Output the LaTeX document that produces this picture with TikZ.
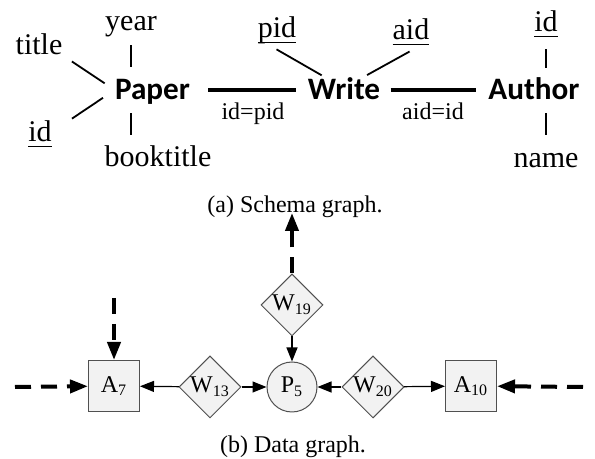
\documentclass[tikz,border=0pt]{standalone}
\usepackage{fontspec}
\setmainfont{Liberation Serif}
\newfontfamily\entityfont{Carlito}
\usetikzlibrary{arrows.meta, positioning, calc, shapes.geometric}
\definecolor{tuplefill}{HTML}{F2F2F2}
\definecolor{tupleline}{HTML}{505050}
\newcommand{\keyattr}[1]{%
  \setbox0=\hbox{#1}\rlap{\rule[-2.6pt]{\wd0}{0.55pt}}\box0}

\begin{document}
\begin{tikzpicture}[x=0.5pt, y=-0.5pt,
    attr/.style={font=\fontsize{15}{18}\selectfont, inner sep=0pt,
      anchor=base, text height=10pt, text depth=0pt},
    entity/.style={font=\entityfont\bfseries\fontsize{15.6}{18}\selectfont,
      inner sep=0pt, anchor=base, text height=10pt, text depth=0pt},
    cond/.style={font=\fontsize{12}{14}\selectfont, inner sep=0pt, anchor=base},
    caption/.style={font=\fontsize{12}{14}\selectfont, inner sep=0pt, anchor=base},
    attrline/.style={line width=0.9pt},
    joinline/.style={line width=2pt},
    tuple/.style={draw=tupleline, fill=tuplefill, line width=0.5pt,
      font=\fontsize{12}{14}\selectfont, inner sep=0pt},
    rel/.style={line width=0.6pt, -{Triangle[length=7pt, width=5.5pt]}},
    more/.style={line width=2pt, dash pattern=on 8pt off 5pt,
      -{Triangle[length=9pt, width=6.5pt]}}]
  \useasboundingbox (0,0) rectangle (595,459);

  \node[entity] (paper) at (152.5,100) {Paper};
  \node[entity] (write) at (344,100) {Write};
  \node[entity] (author) at (534,100) {Author};

  \node[attr] (title) at (39,55) {title};
  \node[attr] (year) at (131,31) {year};
  \node[attr] (paperid) at (40,142) {\keyattr{id}};
  \node[attr] (booktitle) at (158,167) {booktitle};
  \node[attr] (pid) at (277,38) {\keyattr{pid}};
  \node[attr] (aid) at (411,40) {\keyattr{aid}};
  \node[attr] (authorid) at (546,32) {\keyattr{id}};
  \node[attr] (name) at (546,168) {name};

  \node[cond] (pidcond) at (253,120) {id=pid};
  \node[cond] (aidcond) at (433,120) {aid=id};

  \draw[attrline, shorten <=5.5pt, shorten >=6pt] (title.south east) -- (paper.west);
  \draw[attrline, shorten <=7pt, shorten >=6.5pt] (year.south) -- (year.south |- paper.north);
  \draw[attrline, shorten <=7pt, shorten >=12pt] (paper.west) -- (paperid.east);
  \draw[attrline, shorten <=6.5pt, shorten >=6pt] (paper.south -| year.south) -- (booktitle.north -| year.south);
  \draw[attrline, shorten <=11pt, shorten >=4.3pt] (pid.south west) -- (write.145);
  \draw[attrline, shorten <=4.7pt, shorten >=11.5pt] (write.35) -- (aid.south east);
  \draw[attrline, shorten <=8.5pt, shorten >=6pt] (authorid.south) -- (authorid.south |- author.north);
  \draw[attrline, shorten <=6.5pt, shorten >=6.5pt] (author.south -| name.north) -- (name.north);

  \draw[joinline, shorten <=9pt, shorten >=5.5pt] (paper) -- (write);
  \draw[joinline, shorten <=5pt, shorten >=6pt] (write) -- (author);

  \node[caption] (capa) at (295,213) {(a) Schema graph.};

  \node[tuple, rectangle, minimum size=25.5pt] (a7) at (114,386) {A\textsubscript{7}};
  \node[tuple, diamond, minimum width=31pt, minimum height=31pt] (w13) at (210,387) {W\textsubscript{13}};
  \node[tuple, circle, minimum size=25pt] (p5) at (292,387) {P\textsubscript{5}};
  \node[tuple, diamond, minimum width=31pt, minimum height=31pt] (w19) at (292,305) {W\textsubscript{19}};
  \node[tuple, diamond, minimum width=31pt, minimum height=31pt] (w20) at (373,387) {W\textsubscript{20}};
  \node[tuple, rectangle, minimum size=25.5pt] (a10) at (471,386) {A\textsubscript{10}};

  \coordinate (leftin) at (15,387);
  \coordinate (topin) at (114,298);
  \coordinate (rightin) at (583,387);
  \coordinate (upout) at (292,213);

  \draw[rel] (w13) -- (a7);
  \draw[rel] (w13) -- (p5);
  \draw[rel] (w19) -- (p5);
  \draw[rel] (w20) -- (p5);
  \draw[rel] (w20) -- (a10);

  \draw[more] (leftin) -- (a7);
  \draw[more] (topin) -- (a7);
  \draw[more] (rightin) -- (a10);
  \draw[more] (w19) -- (upout);

  \node[caption] (capb) at (293,453) {(b) Data graph.};
\end{tikzpicture}
\end{document}
